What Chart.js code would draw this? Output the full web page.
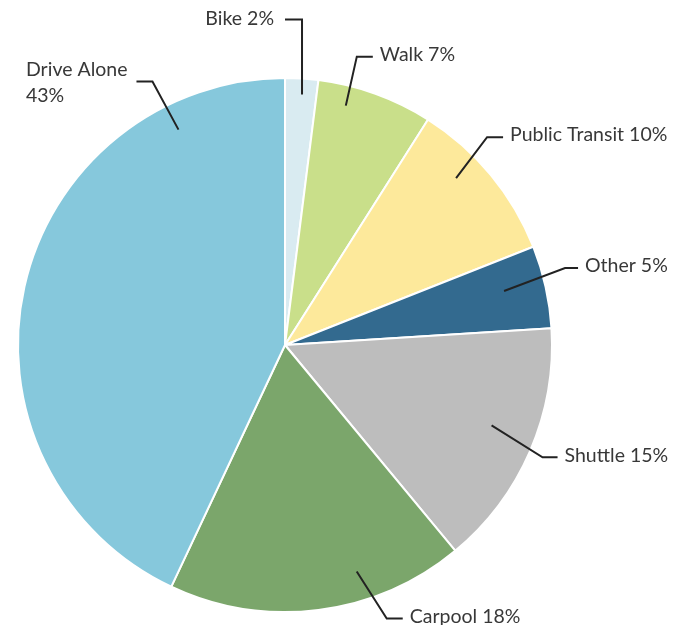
<!DOCTYPE html>
<html>
<head>
<meta charset="utf-8">
<script src="https://cdn.jsdelivr.net/npm/chart.js@4/dist/chart.umd.min.js"></script>
<style>
html,body{margin:0;padding:0;background:#fff;}
#wrap{width:694px;height:625px;position:relative;}
</style>
</head>
<body>
<div id="wrap"><canvas id="c"></canvas></div>
<script>
const categories = ["Bike", "Walk", "Public Transit", "Other", "Shuttle", "Carpool", "Drive Alone"];
const values = [2, 7, 10, 5, 15, 18, 43];
const labelLines = [["Bike 2%"], ["Walk 7%"], ["Public Transit 10%"], ["Other 5%"], ["Shuttle 15%"], ["Carpool 18%"], ["Drive Alone", "43%"]];
const colors = ["#d9ebf1", "#c9df8a", "#fde99b", "#336a8f", "#bdbdbd", "#7ba66b", "#86c8dc"];

// leader line styling: position within slice (t), radius fraction (r), elbow offset (ex, ey), horizontal length (h)
const leaderStyle = [
  {t:0.54, r:0.94, ex:0,   ey:-75, h:-17},
  {t:0.28, r:0.925,ex:11,  ey:-49, h:16},
  {t:0.37, r:0.895,ex:31,  ey:-41, h:16},
  {t:0.43, r:0.845,ex:61,  ey:-23, h:13},
  {t:0.46, r:0.83, ex:51,  ey:32,  h:15},
  {t:0.34, r:0.89, ex:30,  ey:47,  h:16},
  {t:0.83, r:0.90, ex:-26, ey:-48, h:-16}
];

const leaderPlugin = {
  id: 'leaders',
  afterDatasetsDraw(chart) {
    const ctx = chart.ctx;
    const meta = chart.getDatasetMeta(0);
    ctx.save();
    ctx.strokeStyle = '#222';
    ctx.lineWidth = 2;
    ctx.fillStyle = '#383838';
    ctx.font = '19.5px Lato, "Open Sans", sans-serif';
    ctx.textBaseline = 'middle';
    meta.data.forEach((arc, i) => {
      const s = leaderStyle[i];
      const a = arc.startAngle + s.t * (arc.endAngle - arc.startAngle);
      const ax = arc.x + Math.cos(a) * arc.outerRadius * s.r;
      const ay = arc.y + Math.sin(a) * arc.outerRadius * s.r;
      const bx = ax + s.ex, by = ay + s.ey;
      const cx = bx + s.h;
      ctx.beginPath();
      ctx.moveTo(ax, ay);
      ctx.lineTo(bx, by);
      ctx.lineTo(cx, by);
      ctx.stroke();
      const lines = labelLines[i];
      if (s.h < 0) {
        if (lines.length === 1) {
          ctx.textAlign = 'right';
          ctx.fillText(lines[0], cx - 11, by - 1);
        } else {
          ctx.textAlign = 'left';
          ctx.fillText(lines[0], 26, by - 12);
          ctx.fillText(lines[1], 26, by + 14);
        }
      } else {
        ctx.textAlign = 'left';
        ctx.fillText(lines[0], cx + 7, by - 2);
      }
    });
    ctx.restore();
  }
};

new Chart(document.getElementById('c'), {
  type: 'pie',
  data: {
    labels: categories,
    datasets: [{
      data: values,
      backgroundColor: colors,
      borderColor: '#fff',
      borderWidth: 2
    }]
  },
  options: {
    responsive: true,
    maintainAspectRatio: false,
    animation: false,
    layout: { padding: { left: 17, right: 141, top: 77, bottom: 12 } },
    plugins: { legend: { display: false }, tooltip: { enabled: false } }
  },
  plugins: [leaderPlugin]
});
</script>
</body>
</html>
